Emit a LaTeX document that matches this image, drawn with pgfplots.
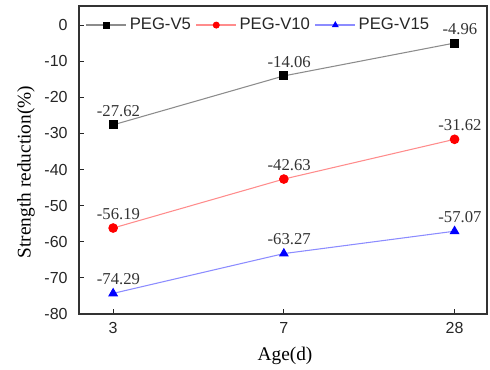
\documentclass[border=0pt]{standalone}
\usepackage{pgfplots}
\pgfplotsset{compat=1.18}
\usepackage{fontspec}
\setmainfont{Liberation Serif}
\setsansfont{Liberation Sans}
\begin{document}
\begin{tikzpicture}
\begin{axis}[
  scale only axis,
  width=306pt, height=231pt,
  xmin=-0.2, xmax=2.19,
  ymin=-80, ymax=5.3,
  xtick={0,1,2}, xticklabels={3,7,28},
  ytick={-80,-70,...,0},
  tick align=inside,
  xtick pos=bottom, ytick pos=left,
  major tick length=3.75pt,
  tick style={black!85, line width=0.8pt},
  axis line style={black!80, line width=1.1pt},
  /pgf/number format/assume math mode=true,
  ticklabel style={font=\sffamily\fontsize{12}{14}\selectfont, text=black!85},
  yticklabel style={xshift=-5pt},
  xticklabel style={yshift=-2.5pt},
  xlabel={Age(d)}, ylabel={Strength reduction(\%)},
  label style={font=\fontsize{14.5}{16}\selectfont},
  ylabel style={at={(axis description cs:-0.13,0.461)}, anchor=center},
  xlabel style={at={(axis description cs:0.505,-0.136)}, anchor=center},
  legend style={draw=none, fill=none, at={(0.016,0.938)}, anchor=west,
    font=\sffamily\fontsize{12.5}{14}\selectfont, text=black!85, legend columns=3,
    /tikz/every even column/.append style={column sep=1.5pt}, inner sep=0pt},
  legend image code/.code={
    \draw[#1, mark=none, line width=1pt] (0pt,0pt) -- (30pt,0pt);
    \draw[#1, draw=none, mark size=2.2pt] plot coordinates {(15pt,0pt)};
  },
  nodes near coords,
  point meta=explicit symbolic,
  every node near coord/.append style={font=\fontsize{12.5}{14}\selectfont, text=black!80, anchor=center, yshift=10.5pt, xshift=4pt},
]
\addplot[color=black!45, line width=0.8pt, mark=square*, mark size=3pt, mark options={draw=black, fill=black}]
  coordinates {(0,-27.62) [-27.62] (1,-14.06) [-14.06] (2,-4.96) [-4.96]};
\addlegendentry{PEG-V5}
\addplot[color=red!45, line width=0.8pt, mark=*, mark size=3.2pt, mark options={draw=red, fill=red}]
  coordinates {(0,-56.19) [-56.19] (1,-42.63) [-42.63] (2,-31.62) [-31.62]};
\addlegendentry{PEG-V10}
\addplot[color=blue!45, line width=0.8pt, mark=triangle*, mark size=3.5pt, mark options={draw=blue, fill=blue}]
  coordinates {(0,-74.29) [-74.29] (1,-63.27) [-63.27] (2,-57.07) [-57.07]};
\addlegendentry{PEG-V15}
\end{axis}
\pgfresetboundingbox
\path[use as bounding box] ([xshift=-59.25pt,yshift=-41.25pt]current axis.south west) rectangle ([xshift=2.25pt,yshift=4.5pt]current axis.north east);
\end{tikzpicture}
\end{document}
